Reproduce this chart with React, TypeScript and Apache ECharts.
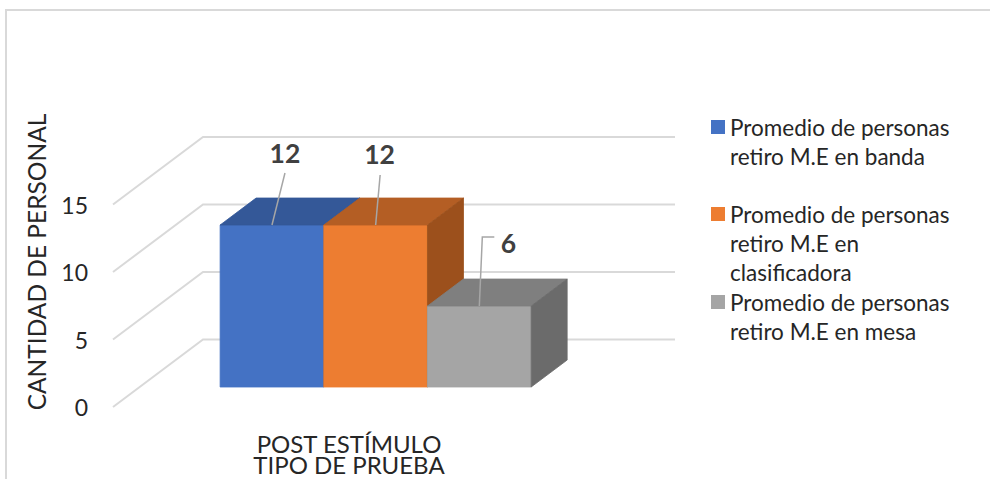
import React, { useEffect, useRef } from 'react';
import * as echarts from 'echarts';

// ---------- data ----------
const CATEGORIES = ['POST ESTÍMULO'];
const X_AXIS_TITLE = 'TIPO DE PRUEBA';
const Y_AXIS_TITLE = 'CANTIDAD DE PERSONAL';
const SERIES_NAMES = [
  'Promedio de personas retiro M.E en banda',
  'Promedio de personas retiro M.E en clasificadora',
  'Promedio de personas retiro M.E en mesa',
];
const LEGEND_LINES = [
  ['Promedio de personas', 'retiro M.E en banda'],
  ['Promedio de personas', 'retiro M.E en', 'clasificadora'],
  ['Promedio de personas', 'retiro M.E en mesa'],
];
const BANDA = [12];
const CLASIFICADORA = [12];
const MESA = [6];
const Y_TICKS = [0, 5, 10, 15];
const Y_MIN = 0;
const Y_MAX = 15;
const Y_INTERVAL = 5;

// ---------- styles / layout ----------
const FONT = 'Lato, "Noto Sans", sans-serif';
const TEXT_COLOR = '#262626';
const FACE_COLORS = [
  { front: '#4472C4', top: '#345898', side: '#2E4F8C' },
  { front: '#ED7D31', top: '#B45E24', side: '#9C501C' },
  { front: '#A5A5A5', top: '#7F7F7F', side: '#6B6B6B' },
];
const WALL = [90, -67.5]; // depth vector from floor front edge to back wall
const BAR_FRONT_T = 0.296;
const BAR_BACK_T = 0.696;
const GROUP_RATIO = 0.659;
const LABEL_LAYOUT = [
  { leader: [[0, 0], [13, -52]], text: [13, -72] },
  { leader: [[0, 0], [4.5, -50]], text: [4, -71] },
  { leader: [[0, 0], [3, -69], [15, -69]], text: [29, -63] },
];
const LEGEND_FIRST_LINE_Y = [127, 214, 302];
const LEGEND_LINE_H = 29;

function makeBarRenderer(idx: number) {
  return (params: any, api: any) => {
    const cat = api.value(0);
    const val = api.value(1);
    const base = api.coord([cat, 0]);
    const topPt = api.coord([cat, val]);
    const band = api.size([1, 0])[0];
    const groupW = band * GROUP_RATIO;
    const barW = groupW / SERIES_NAMES.length;
    const fdx = WALL[0] * BAR_FRONT_T;
    const fdy = WALL[1] * BAR_FRONT_T;
    const ddx = WALL[0] * (BAR_BACK_T - BAR_FRONT_T);
    const ddy = WALL[1] * (BAR_BACK_T - BAR_FRONT_T);
    const x0 = base[0] - groupW / 2 + idx * barW + fdx;
    const x1 = x0 + barW;
    const yb = base[1] + fdy;
    const yt = topPt[1] + fdy;
    const c = FACE_COLORS[idx];
    const lay = LABEL_LAYOUT[idx];
    const ax = (x0 + x1) / 2;
    const ay = yt;
    return {
      type: 'group',
      children: [
        {
          type: 'polygon',
          shape: { points: [[x0, yt], [x1, yt], [x1, yb], [x0, yb]] },
          style: { fill: c.front, stroke: c.front, lineWidth: 0.8 },
        },
        {
          type: 'polygon',
          shape: { points: [[x0, yt], [x1, yt], [x1 + ddx, yt + ddy], [x0 + ddx, yt + ddy]] },
          style: { fill: c.top, stroke: c.top, lineWidth: 0.8 },
        },
        {
          type: 'polygon',
          shape: { points: [[x1, yt], [x1 + ddx, yt + ddy], [x1 + ddx, yb + ddy], [x1, yb]] },
          style: { fill: c.side, stroke: c.side, lineWidth: 0.8 },
        },
        {
          type: 'polyline',
          shape: { points: lay.leader.map((p) => [ax + p[0], ay + p[1]]) },
          style: { stroke: '#A6A6A6', lineWidth: 1.5, fill: null },
        },
        {
          type: 'text',
          style: {
            text: String(val),
            x: ax + lay.text[0],
            y: ay + lay.text[1],
            align: 'center',
            verticalAlign: 'middle',
            fontSize: 26.5,
            fontWeight: 'bold',
            fontFamily: FONT,
            fill: '#404040',
          },
        },
      ],
    };
  };
}

export default function App() {
  const ref = useRef<HTMLDivElement>(null);
  useEffect(() => {
    if (!ref.current) return;
    const chart = echarts.init(ref.current, null, { renderer: 'svg' });
    const seriesValues = [BANDA, CLASIFICADORA, MESA];

    const legends = SERIES_NAMES.map((name, i) => {
      const n = LEGEND_LINES[i].length;
      const top = LEGEND_FIRST_LINE_Y[i] - LEGEND_LINE_H * (n - 1) - LEGEND_LINE_H / 2;
      return {
        data: [name],
        left: 711,
        top,
        orient: 'vertical',
        padding: 0,
        itemGap: 0,
        itemWidth: 14,
        itemHeight: 14,
        icon: 'rect',
        selectedMode: false,
        formatter: () => '\n'.repeat(n - 1) + LEGEND_LINES[i].join('\n'),
        textStyle: {
          fontFamily: FONT,
          fontSize: 22.5,
          lineHeight: LEGEND_LINE_H,
          color: TEXT_COLOR,
        },
      };
    });

    const option: any = {
      animation: false,
      backgroundColor: '#ffffff',
      grid: {
        left: 113,
        right: 405,
        top: 204.5,
        bottom: 72,
        containLabel: false,
        outerBoundsMode: 'none',
      },
      legend: legends,
      xAxis: {
        type: 'category',
        data: CATEGORIES,
        name: X_AXIS_TITLE,
        nameLocation: 'middle',
        nameGap: 47.5,
        nameMoveOverlap: false,
        nameTextStyle: { fontFamily: FONT, fontSize: 24, lineHeight: 20, color: TEXT_COLOR },
        axisLine: { show: false },
        axisTick: { show: false },
        splitLine: { show: false },
        axisLabel: { margin: 26.5, fontFamily: FONT, fontSize: 24, lineHeight: 20, color: TEXT_COLOR },
      },
      yAxis: {
        type: 'value',
        min: Y_MIN,
        max: Y_MAX,
        interval: Y_INTERVAL,
        axisLine: { show: false },
        axisTick: { show: false },
        splitLine: { show: false },
        axisLabel: { margin: 25, fontFamily: FONT, fontSize: 23, color: TEXT_COLOR },
      },
      graphic: [
        {
          type: 'rect',
          silent: true,
          shape: { x: 6, y: 10, width: 1200, height: 700 },
          style: { fill: 'none', stroke: '#D9D9D9', lineWidth: 2 },
        },
        {
          type: 'text',
          x: 36,
          y: 262,
          rotation: Math.PI / 2,
          style: {
            text: Y_AXIS_TITLE,
            align: 'center',
            verticalAlign: 'middle',
            fontFamily: FONT,
            fontSize: 24.5,
            fill: TEXT_COLOR,
          },
        },
      ],
      series: [
        {
          type: 'custom',
          name: 'gridlines',
          z: 1,
          silent: true,
          data: Y_TICKS.map((v) => [0, v]),
          renderItem: (params: any, api: any) => {
            const cs = params.coordSys;
            const y = api.coord([0, api.value(1)])[1];
            const x = cs.x;
            return {
              type: 'polyline',
              shape: {
                points: [
                  [x, y],
                  [x + WALL[0], y + WALL[1]],
                  [x + cs.width + WALL[0], y + WALL[1]],
                ],
              },
              style: { stroke: '#D9D9D9', lineWidth: 2, fill: null },
            };
          },
        },
        ...SERIES_NAMES.map((name, i) => ({
          type: 'custom',
          name,
          z: 2,
          itemStyle: { color: FACE_COLORS[i].front },
          data: seriesValues[i].map((v, k) => [k, v]),
          renderItem: makeBarRenderer(i),
        })),
      ],
    };
    chart.setOption(option);
    return () => chart.dispose();
  }, []);
  return (
    <div
      ref={ref}
      style={{ position: 'absolute', left: 0, top: 0, width: 990, height: 479 }}
    />
  );
}
